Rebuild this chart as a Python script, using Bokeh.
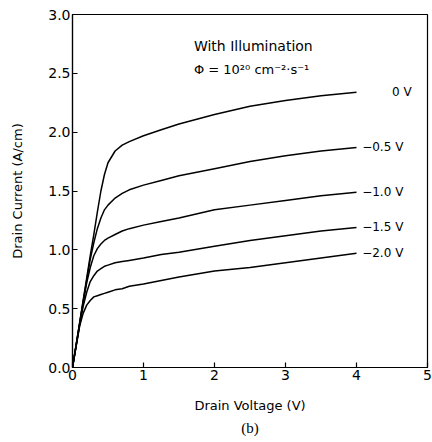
from bokeh.plotting import figure
from bokeh.models import Range1d, FixedTicker, Label, Title, CustomJSTickFormatter
from bokeh.core.properties import value
from bokeh.embed import file_html
from bokeh.resources import INLINE

# Drain voltage (V)
vd = [0, 0.1, 0.15, 0.2, 0.25, 0.3, 0.35, 0.4, 0.45, 0.5, 0.6, 0.7, 0.8, 1.0,
      1.25, 1.5, 2.0, 2.5, 3.0, 3.5, 4.0]
# Drain current (A/cm) for each gate voltage
i_0v = [0, 0.38, 0.57, 0.76, 0.95, 1.13, 1.32, 1.50, 1.64, 1.74, 1.84, 1.89, 1.92, 1.97,
        2.02, 2.07, 2.15, 2.22, 2.27, 2.31, 2.34]
i_m05 = [0, 0.37, 0.56, 0.74, 0.92, 1.06, 1.18, 1.27, 1.34, 1.38, 1.44, 1.48, 1.51, 1.55,
         1.59, 1.63, 1.69, 1.75, 1.80, 1.84, 1.87]
i_m10 = [0, 0.37, 0.55, 0.72, 0.85, 0.95, 1.01, 1.05, 1.08, 1.10, 1.13, 1.16, 1.18, 1.21,
         1.24, 1.27, 1.34, 1.38, 1.42, 1.46, 1.49]
i_m15 = [0, 0.36, 0.52, 0.64, 0.73, 0.78, 0.82, 0.84, 0.86, 0.87, 0.89, 0.90, 0.91, 0.93,
         0.96, 0.98, 1.03, 1.08, 1.12, 1.16, 1.19]
i_m20 = [0, 0.35, 0.46, 0.53, 0.57, 0.60, 0.61, 0.62, 0.63, 0.64, 0.66, 0.67, 0.69, 0.71,
         0.74, 0.77, 0.82, 0.85, 0.89, 0.93, 0.97]
series = [i_0v, i_m05, i_m10, i_m15, i_m20]
gate_labels = ["0 V", "\u22120.5 V", "\u22121.0 V", "\u22121.5 V", "\u22122.0 V"]
x_ticks = [0, 1, 2, 3, 4, 5]
y_ticks = [0.0, 0.5, 1.0, 1.5, 2.0, 2.5, 3.0]

FONT = "DejaVu Sans"

p = figure(width=432, height=438, output_backend="svg", toolbar_location=None,
           x_range=Range1d(0, 5), y_range=Range1d(0, 3),
           min_border_left=72, min_border_top=14, min_border_right=5, min_border_bottom=0)
p.grid.visible = False
p.outline_line_color = "black"
p.outline_line_width = 1.2
p.background_fill_color = "white"
p.border_fill_color = "white"

for ax in (p.xaxis[0], p.yaxis[0]):
    ax.major_tick_in = 5
    ax.major_tick_out = 0
    ax.minor_tick_line_color = None
    ax.axis_line_color = "black"
    ax.axis_line_width = 1.2
    ax.major_tick_line_width = 1.2
    ax.major_label_text_font = FONT
    ax.major_label_text_font_size = "14px"
    ax.major_label_text_color = "black"
    ax.axis_label_text_font = FONT
    ax.axis_label_text_font_size = "13px"
    ax.axis_label_text_font_style = "normal"
    ax.axis_label_text_color = "black"

p.xaxis[0].ticker = FixedTicker(ticks=x_ticks)
p.yaxis[0].ticker = FixedTicker(ticks=y_ticks)
p.yaxis[0].formatter = CustomJSTickFormatter(code="return tick.toFixed(1);")
p.xaxis[0].axis_label = "Drain Voltage (V)"
p.yaxis[0].axis_label = "Drain Current (A/cm)"
p.xaxis[0].major_label_standoff = 2
p.yaxis[0].major_label_standoff = 2
p.xaxis[0].axis_label_standoff = 15
p.yaxis[0].axis_label_standoff = 20

for ys in series:
    p.line(vd, ys, line_color="black", line_width=1.5)

# curve labels at the right end of each curve
lab_x = [vd[-1] + 0.5] + [vd[-1] + 0.08] * 4
lab_y = [ys[-1] for ys in series]
p.text(lab_x, lab_y, text=gate_labels, text_font=value(FONT), text_font_size="12px",
       text_baseline="middle", text_align="left", text_color="black")

p.add_layout(Label(x=1.71, y=2.73, text="With Illumination", text_font=FONT,
                   text_font_size="14px", text_baseline="middle", text_color="black"))
p.add_layout(Label(x=1.71, y=2.53, text="\u03a6 = 10\u00b2\u2070 cm\u207b\u00b2\u00b7s\u207b\u00b9",
                   text_font=FONT, text_font_size="13px", text_baseline="middle",
                   text_color="black"))

p.add_layout(Title(text="(b)", align="center", text_font="Liberation Serif",
                   text_font_size="15px", text_font_style="normal", text_color="black",
                   standoff=5), "below")

open("out.html", "w").write(file_html(p, INLINE))
